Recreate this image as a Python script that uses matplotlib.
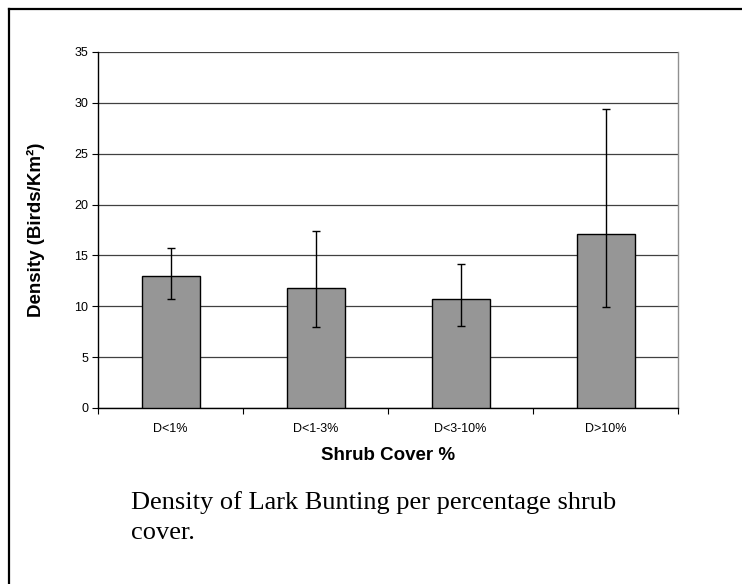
import matplotlib.pyplot as plt
import numpy as np
from matplotlib.lines import Line2D

categories = ["D<1%", "D<1-3%", "D<3-10%", "D>10%"]
density = [13.0, 11.8, 10.7, 17.1]
err_low = [10.7, 7.95, 8.05, 9.95]
err_high = [15.7, 17.4, 14.2, 29.4]
yticks = [0, 5, 10, 15, 20, 25, 30, 35]

W, H = 742, 584
fig = plt.figure(figsize=(W / 100, H / 100), dpi=100)

# outer frame (only the left and top edges are in view)
fig.add_artist(Line2D([8.5 / W, 8.5 / W], [0, 1 - 9 / H], transform=fig.transFigure, color="black", lw=1.6))
fig.add_artist(Line2D([8.5 / W, 1], [1 - 9 / H, 1 - 9 / H], transform=fig.transFigure, color="black", lw=1.6))

ax = fig.add_axes([98 / W, (H - 408) / H, 580 / W, 356 / H])

x = np.arange(len(categories))
dens = np.array(density)
yerr = np.array([dens - np.array(err_low), np.array(err_high) - dens])

ax.bar(x, dens, width=0.4, color="#969696", edgecolor="black", linewidth=1.0, zorder=3)
ax.errorbar(x, dens, yerr=yerr, fmt="none", ecolor="black", elinewidth=1.0,
            capsize=3, capthick=1.0, zorder=4)

ax.set_xlim(-0.5, len(categories) - 0.5)
ax.set_ylim(0, 35)
ax.set_yticks(yticks)
ax.yaxis.grid(True, color="#404040", linewidth=0.9, zorder=0)
ax.set_axisbelow(True)

ax.set_xticks(x)
ax.set_xticklabels(categories, fontsize=9, family="Liberation Sans")
ax.set_xticks(np.arange(len(categories) + 1) - 0.5, minor=True)
ax.tick_params(axis="x", which="major", length=0, pad=11)
ax.tick_params(axis="x", which="minor", length=4, width=0.8, direction="out")
ax.tick_params(axis="y", length=4, width=0.8, direction="out", labelsize=9, pad=3)
for lab in ax.get_yticklabels():
    lab.set_family("Liberation Sans")

ax.spines["top"].set_visible(False)
ax.spines["right"].set_color("#909090")
ax.spines["right"].set_linewidth(1.0)
ax.spines["left"].set_linewidth(1.0)
ax.spines["bottom"].set_linewidth(1.0)

ax.set_xlabel("Shrub Cover %", fontsize=13.5, fontweight="bold", family="Liberation Sans", labelpad=8.5)
ax.set_ylabel("Density (Birds/Km²)", fontsize=13.5, fontweight="bold", family="Liberation Sans")
ax.yaxis.set_label_coords((45 - 98) / 580, 0.5)

fig.text(131 / W, 1 - 509 / H, "Density of Lark Bunting per percentage shrub",
         fontsize=19, family="Liberation Serif", ha="left", va="baseline")
fig.text(131 / W, 1 - 539 / H, "cover.",
         fontsize=19, family="Liberation Serif", ha="left", va="baseline")

fig.savefig("out.png", dpi=100)
